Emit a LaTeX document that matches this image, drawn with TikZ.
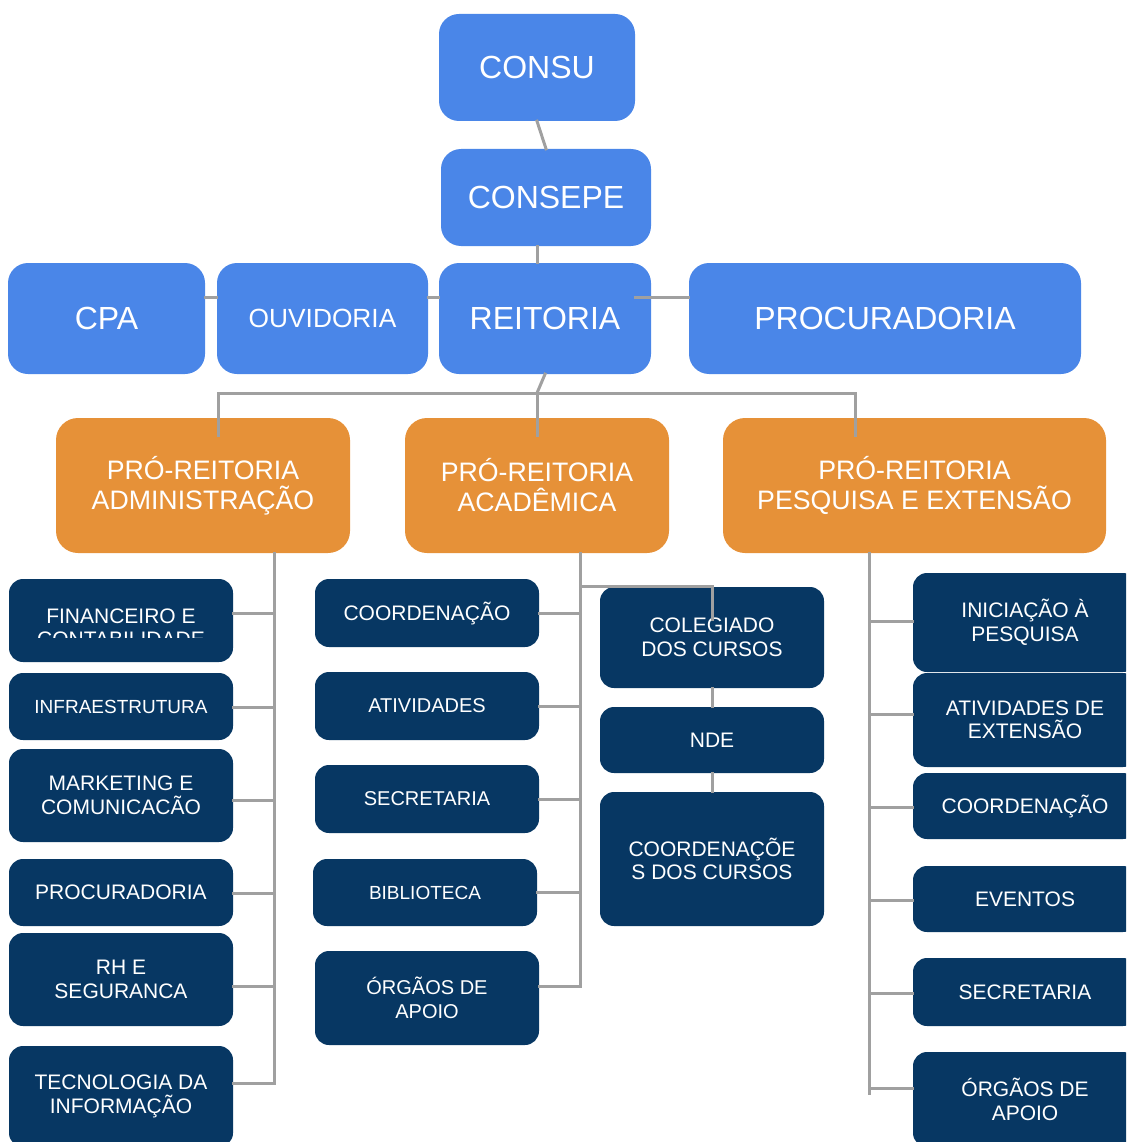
\documentclass[tikz,border=0pt]{standalone}
\usepackage{fontspec}
\setmainfont{Liberation Sans}
\definecolor{topblue}{HTML}{4A86E8}
\definecolor{proorange}{HTML}{E69138}
\definecolor{navy}{HTML}{073763}
\definecolor{linegray}{HTML}{A0A0A0}
\tikzset{
  box/.style={text=white,align=center,inner sep=0pt},
  upper/.style={box,fill=topblue,rounded corners=20pt,minimum height=111pt,font=\fontsize{32}{38}\selectfont},
  pro/.style={box,fill=proorange,rounded corners=22pt,minimum height=135pt,font=\fontsize{26.7}{30}\selectfont},
  unit/.style={box,fill=navy,rounded corners=14pt,minimum width=224pt,font=\fontsize{21}{23.5}\selectfont},
  small/.style={font=\fontsize{20}{23.5}\selectfont},
  link/.style={draw=linegray,line width=3pt,line cap=rect}
}
\begin{document}
\begin{tikzpicture}[x=1pt,y=-1pt]
\useasboundingbox (0,0) rectangle (1126,1142);
\clip (0,0) rectangle (1126,1142);
\node [upper,minimum width=196pt,minimum height=107pt](Consu) at (537,67.5){CONSU};
\node [upper,minimum width=210pt,minimum height=97pt](Consepe) at (546,197.5){CONSEPE};
\node [upper,minimum width=197pt](Cpa) at (106.5,318.5){CPA};
\node [upper,minimum width=211pt,font=\fontsize{26.3}{30}\selectfont](Ouv) at (322.5,318.5){OUVIDORIA};
\node [upper,minimum width=212pt](Reit) at (545,318.5){REITORIA};
\node [upper,minimum width=392pt](Procur) at (885,318.5){PROCURADORIA};
\node [pro,minimum width=294pt](ProAdm) at (203,485.5){PRÓ-REITORIA\\ADMINISTRAÇÃO};
\node [pro,minimum width=264pt](ProAcad) at (537,485.5){PRÓ-REITORIA\\ACADÊMICA};
\node [pro,minimum width=383pt](ProPesq) at (914.5,485.5){PRÓ-REITORIA\\PESQUISA E EXTENSÃO};
\node [unit,minimum height=83pt](Fin) at (121,620.5){};
\begin{scope}
\clip (Fin.north west) rectangle ([yshift=-59pt]Fin.north east);
\node [box,font=\fontsize{21}{23.5}\selectfont](FinText) at (121,628){FINANCEIRO E\\CONTABILIDADE};
\end{scope}
\node [unit,minimum height=67pt,font=\fontsize{19}{21}\selectfont](Infra) at (121,706.5){INFRAESTRUTURA};
\node [unit,minimum height=93pt](Mkt) at (121,795.5){MARKETING E\\COMUNICACÃO};
\node [unit,minimum height=67pt](ProcAdm) at (121,892.5){PROCURADORIA};
\node [unit,minimum height=93pt](Rh) at (121,979.5){RH E\\SEGURANCA};
\node [unit,minimum height=101pt](Ti) at (121,1096.5){TECNOLOGIA DA\\INFORMAÇÃO};
\node [unit,minimum height=68pt](Coord) at (427,613){COORDENAÇÃO};
\node [unit,small,minimum height=68pt](Ativ) at (427,706){ATIVIDADES};
\node [unit,small,minimum height=68pt](Secr) at (427,799){SECRETARIA};
\node [unit,minimum height=67pt,font=\fontsize{19}{21}\selectfont](Bibl) at (425,892.5){BIBLIOTECA};
\node [unit,small,minimum height=94pt](Orgaos) at (427,998){ÓRGÃOS DE\\APOIO};
\node [unit,minimum height=101pt](Coleg) at (712,637.5){COLEGIADO\\DOS CURSOS};
\node [unit,minimum height=66pt](Nde) at (712,740){NDE};
\node [unit,minimum height=134pt](Coords) at (712,859){COORDENAÇÕE\\S DOS CURSOS};
\node [unit,minimum height=99pt](Inic) at (1025,622.5){INICIAÇÃO À\\PESQUISA};
\node [unit,minimum height=94pt](AtivExt) at (1025,720){ATIVIDADES DE\\EXTENSÃO};
\node [unit,minimum height=66pt](CoordPe) at (1025,806){COORDENAÇÃO};
\node [unit,minimum height=66pt](Event) at (1025,899){EVENTOS};
\node [unit,minimum height=68pt](SecPe) at (1025,992){SECRETARIA};
\node [unit,minimum height=95pt](OrgPe) at (1025,1099.5){ÓRGÃOS DE\\APOIO};
\draw [link](Consu.south) -- (Consepe.north);
\draw [link](Consepe.south -| Consu.south) -- (Reit.north -| Consu.south);
\draw [link]([yshift=21.5pt]Cpa.east) -- ([yshift=21.5pt]Ouv.west);
\draw [link]([yshift=21.5pt]Ouv.east) -- ([yshift=21.5pt]Reit.west);
\draw [link]([xshift=-16pt,yshift=21.5pt]Reit.east) -- ([yshift=21.5pt]Procur.west);
\coordinate (Hub) at (537,393);
\coordinate (BusL) at (218,393);
\coordinate (BusR) at (855,393);
\draw [link](Reit.south) -- (Hub);
\draw [link]([yshift=-18pt]ProAdm.north -| BusL) -- (BusL) -- (BusR) -- ([yshift=-18pt]ProPesq.north -| BusR);
\draw [link](Hub) -- ([yshift=-18pt]ProAcad.north -| Hub);
\foreach \nm/\yy in {Fin/613,Infra/707,Mkt/800,ProcAdm/893,Rh/986,Ti/1083}{
  \coordinate (a\nm) at (274,\yy);
  \draw [link](a\nm) -- (a\nm -| \nm.east);
}
\draw [link](ProAdm.south -| aFin) -- (aTi);
\foreach \nm/\yy in {Coord/613,Ativ/706,Secr/799,Bibl/892,Orgaos/986}{
  \coordinate (b\nm) at (580,\yy);
  \draw [link](b\nm) -- (b\nm -| \nm.east);
}
\draw [link](ProAcad.south -| bCoord) -- (bOrgaos);
\coordinate (bColeg) at (580,586);
\draw [link](bColeg) -| ([yshift=-33pt]Coleg.north);
\draw [link](Coleg.south) -- (Nde.north);
\draw [link](Nde.south) -- (Coords.north);
\foreach \nm/\yy in {Inic/621,AtivExt/714,CoordPe/807,Event/900,SecPe/993,OrgPe/1088}{
  \coordinate (c\nm) at (869,\yy);
  \draw [link](c\nm) -- (c\nm -| \nm.west);
}
\draw [link](ProPesq.south -| cInic) -- ([yshift=-5pt]cOrgPe);
\end{tikzpicture}
\end{document}
